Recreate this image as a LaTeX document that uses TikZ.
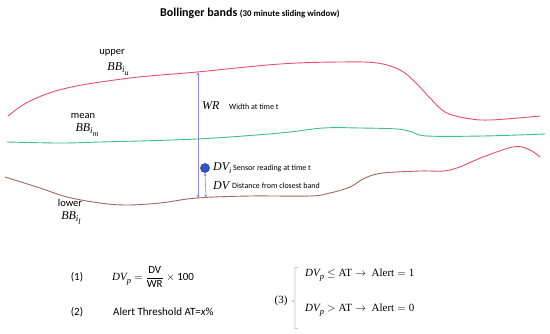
\documentclass[tikz,border=0pt]{standalone}
\usepackage{amsmath}
\usepackage{fontspec}
\setmainfont{Carlito}
\newfontfamily\cmbfont{Liberation Serif}
\newcommand{\mvar}[1]{\text{\cmbfont\itshape #1}}
\newcommand{\mup}[1]{\text{\cmbfont #1}}
\newcommand{\sbx}[2]{\raisebox{-2.6pt}{\fontsize{#1}{#1}\selectfont #2}}
\newcommand{\bbl}[1]{\text{\cmbfont\itshape BB\sbx{9}{i\sbx{8}{#1}}}}
\newcommand{\dvp}[1]{\text{\cmbfont\itshape DV\sbx{8.5}{#1}}}
\usetikzlibrary{arrows.meta}
\definecolor{upperred}{HTML}{E8506A}
\definecolor{meangreen}{HTML}{3EC08C}
\definecolor{lowerbrown}{HTML}{A06A60}
\definecolor{lowermix}{HTML}{C45C66}
\definecolor{arrowblue}{HTML}{8A8AD8}
\definecolor{dotblue}{HTML}{2F55C8}
\definecolor{bracegray}{HTML}{C8C8C8}
\begin{document}
\begin{tikzpicture}[x=1pt,y=-1pt,
  band/.style={line width=0.9pt},
  lbl/.style={font=\fontsize{10.5}{12}\selectfont, inner sep=0pt},
  mlbl/.style={font=\fontsize{12}{14}\selectfont, inner sep=0pt},
  note/.style={font=\fontsize{8}{9}\selectfont, inner sep=0pt, anchor=west},
  eq/.style={font=\fontsize{11}{13}\selectfont, inner sep=0pt},
  meas/.style={draw=arrowblue, line width=0.6pt, {Stealth[length=3pt,width=3pt]}-{Stealth[length=3.5pt,width=3pt]}}]
\useasboundingbox (0,0) rectangle (550,333);
\fill[white] (0,0) rectangle (550,333);
% title
\node[anchor=west, inner sep=0pt] (title) at (160,13) {\fontsize{12}{13}\selectfont\bfseries Bollinger bands {\fontsize{8.8}{10}\selectfont(30 minute sliding window)}};
% upper band
\draw[band, upperred] plot[smooth, tension=0.6] coordinates {(8,116) (30,101) (67,88) (130,78) (197,72) (280,64) (340,62) (377,63) (400,70) (415,82) (430,98) (445,112) (465,118) (490,120) (540,116)};
% mean band
\draw[band, meangreen] plot[smooth, tension=0.6] coordinates {(7,142) (60,143) (100,142) (197,139) (280,133) (323,128) (360,128) (397,129) (412,132) (427,136) (483,136) (545,134)};
% lower band
\def\lowerpath{plot[smooth, tension=0.6] coordinates {(5,177) (40,188) (67,197) (100,203) (127,205) (160,203) (197,198) (250,196) (310,196) (330,193) (350,187) (365,178) (383,173) (420,171) (450,170) (483,157) (513,147) (528,149) (540,157)}}
\begin{scope}\clip (0,0) rectangle (385,333); \draw[band, lowerbrown] \lowerpath; \end{scope}
\begin{scope}\clip (385,0) rectangle (440,333); \draw[band, lowermix] \lowerpath; \end{scope}
\begin{scope}\clip (440,0) rectangle (550,333); \draw[band, upperred] \lowerpath; \end{scope}
% labels of bands
\node[lbl] (upl) at (112,53) {upper};
\node[mlbl] (upm) at (118,69) {\bbl{u}};
\node[lbl] (mnl) at (83,116) {mean};
\node[mlbl] (mnm) at (87,130) {\bbl{m}};
\node[lbl] (lol) at (70,203) {lower};
\node[mlbl] (lom) at (71,218) {\bbl{l}};
% measurement
\coordinate (wrtop) at (198,72);
\coordinate (wrbot) at (198,198);
\node[circle, fill=dotblue, draw=dotblue!60!black, line width=0.5pt, minimum size=9pt, inner sep=0pt] (dot) at (205,168) {};
\coordinate (dvbot) at (206,197.5);
\draw[meas] (wrbot) -- (wrtop);
\draw[meas] (dvbot) -- (dot.south);
\node[mlbl, anchor=west] (wr) at (202,106) {\mvar{WR}};
\node[note] (wrn) at (229,107) {Width at time t};
\node[mlbl, anchor=west] (dvi) at (213,168) {\dvp{i}};
\node[note] (dvin) at (233,168) {Sensor reading at time t};
\node[mlbl, anchor=west] (dv) at (213,186) {\mvar{DV}};
\node[note] (dvn) at (232,186) {Distance from closest band};
% equations
\node[eq] (n1) at (77,277) {(1)};
\node[eq, anchor=west] (e1) at (112,277) {$\dvp{p}=\dfrac{\text{DV}}{\text{WR}}\times\text{100}$};
\node[eq] (n2) at (77,312) {(2)};
\node[eq, anchor=west] (e2) at (113,312) {Alert Threshold AT=\textit{x}\%};
\node[eq] (n3) at (281,301) {\cmbfont (3)};
\draw[bracegray, line width=0.9pt] (298,267.5) -- (295,267.5) -- (295,300) -- (292,301) -- (295,302) -- (295,328.5) -- (298,328.5);
\node[eq, anchor=west] (e3a) at (305,275) {$\dvp{p}\leq\mup{AT}\rightarrow\ \mup{Alert}=\mup{1}$};
\node[eq, anchor=west] (e3b) at (305,310) {$\dvp{p}>\mup{AT}\rightarrow\ \mup{Alert}=\mup{0}$};
\end{tikzpicture}
\end{document}
